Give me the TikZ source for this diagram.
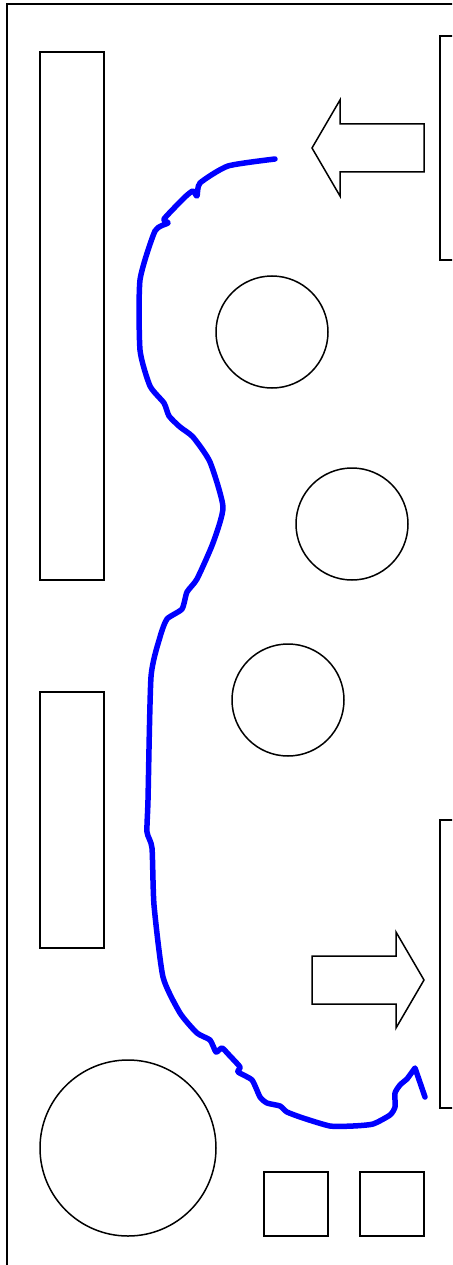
\documentclass[tikz,border=0pt]{standalone}
\usepackage{xcolor}
\usetikzlibrary{positioning}

\begin{document}
\begin{tikzpicture}[
  x=1pt, y=-1pt,
  outline/.style={draw=black, line width=1.5pt},
  route/.style={draw=blue, line width=5.5pt, line join=round, line cap=round}]
 \useasboundingbox (0,0) rectangle (452,1265);
 \clip (0,0) rectangle (452,1265);
 % frame, runs off the right and bottom
 \draw[outline, line width=1.8pt] (7,4) rectangle (480,1300);
 % left blocks
 \draw[outline] (40,52) rectangle (104,580);
 \draw[outline] (40,692) rectangle (104,948);
 % right blocks (cut by the edge)
 \draw[outline] (440,36) rectangle (480,260);
 \draw[outline] (440,820) rectangle (480,1108);
 % block arrows
 \draw[outline] (312,148) -- (340,100) -- (340,124) -- (424,124)
   -- (424,172) -- (340,172) -- (340,196) -- cycle;
 \draw[outline] (424,980) -- (396,932) -- (396,956) -- (312,956)
   -- (312,1004) -- (396,1004) -- (396,1028) -- cycle;
 % circles
 \draw[outline] (272,332) circle[radius=56];
 \draw[outline] (352,524) circle[radius=56];
 \draw[outline] (288,700) circle[radius=56];
 \draw[outline] (128,1148) circle[radius=88];
 % squares
 \draw[outline] (264,1172) rectangle (328,1236);
 \draw[outline] (360,1172) rectangle (424,1236);
 % blue route
 \draw[route] plot[smooth, tension=0.35] coordinates {
   (275,159) (228,166) (200,183) (197,196) (193,191) (185,197)
   (164,219) (168,223) (155,231) (140,280) (140,350) (150,386)
   (164,403) (169,416) (180,427) (193,437) (210,462) (223,507)
   (213,543) (197,579) (187,592) (182,609) (167,619) (160,637)
   (151,677) (148,800) (147,832) (152,848) (154,905) (163,977)
   (180,1013) (197,1033) (210,1040) (216,1052) (222,1048) (230,1056)
   (240,1067) (238,1072) (252,1080) (260,1097) (267,1103) (280,1106)
   (287,1112) (303,1118) (330,1126) (353,1126) (373,1124) (390,1115)
   (395,1107) (395,1093) (400,1085) (407,1079)}
   -- (415,1068) -- (425,1097);
\end{tikzpicture}
\end{document}
